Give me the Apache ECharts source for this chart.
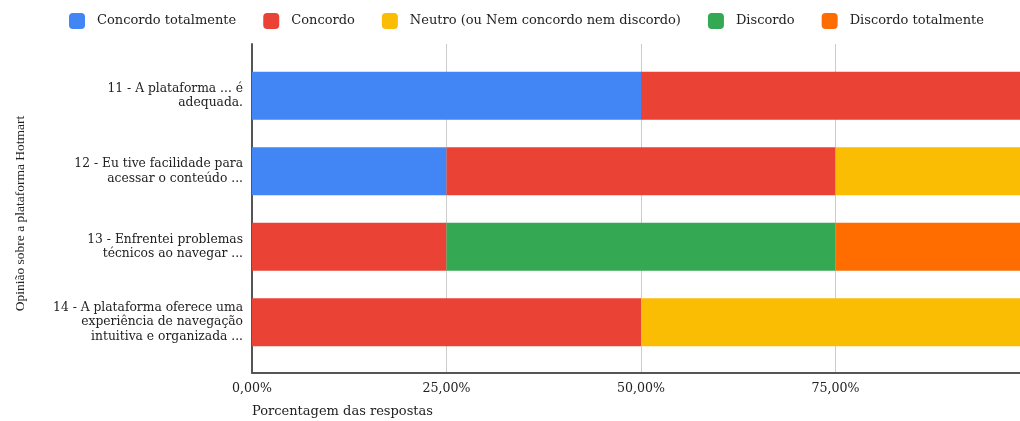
<!DOCTYPE html>
<html>
<head>
<meta charset="utf-8">
<script src="https://cdn.jsdelivr.net/npm/echarts@6/dist/echarts.min.js"></script>
<style>html,body{margin:0;padding:0;background:#fff;overflow:hidden;}#c{width:1030px;height:421px;}</style>
</head>
<body>
<div id="c"></div>
<script>
const categories = [
  "11 - A plataforma ... é\nadequada.",
  "12 - Eu tive facilidade para\nacessar o conteúdo ...",
  "13 - Enfrentei problemas\ntécnicos ao navegar ...",
  "14 - A plataforma oferece uma\nexperiência de navegação\nintuitiva e organizada ..."
];
const seriesNames = ["Concordo totalmente", "Concordo", "Neutro (ou Nem concordo nem discordo)", "Discordo", "Discordo totalmente"];
const concordoTotalmente = [50, 25, 0, 0];
const concordo = [50, 50, 25, 50];
const neutro = [0, 25, 0, 50];
const discordo = [0, 0, 50, 0];
const discordoTotalmente = [0, 0, 25, 0];
const xTicks = [0, 25, 50, 75, 100];
const colors = ["#4285F4", "#EA4335", "#FBBC04", "#34A853", "#FF6D01"];
const xTitle = "Porcentagem das respostas";
const yTitle = "Opinião sobre a plataforma Hotmart";

const values = [concordoTotalmente, concordo, neutro, discordo, discordoTotalmente];
const serif = "DejaVu Serif";

const chart = echarts.init(document.getElementById('c'), null, {renderer: 'canvas'});
chart.setOption({
  animation: false,
  color: colors,
  title: {
    text: xTitle, left: 252, top: 405, padding: 0,
    textStyle: {fontFamily: serif, fontSize: 13, fontWeight: 'normal', color: '#222'}
  },
  legend: {
    data: seriesNames, left: 69, top: 13, padding: 0, icon: 'roundRect',
    itemWidth: 16, itemHeight: 16, itemGap: 27,
    textStyle: {fontFamily: serif, fontSize: 13, color: '#222', padding: [0, 0, 0, 7]}
  },
  grid: [
    {left: 252, right: 0, top: 44, bottom: 48},
    {left: 252, right: 0, top: 58, bottom: 61}
  ],
  xAxis: [
    {
      gridIndex: 0, type: 'value', min: xTicks[0], max: xTicks[xTicks.length - 1], interval: 25,
      axisLine: {show: true, lineStyle: {color: '#555', width: 2}},
      axisTick: {show: false},
      splitLine: {show: true, lineStyle: {color: '#cccccc', width: 1}},
      axisLabel: {
        showMaxLabel: false, margin: 9, color: '#222', fontFamily: serif, fontSize: 12.6,
        formatter: v => v.toFixed(2).replace('.', ',') + '%'
      }
    },
    {
      gridIndex: 1, type: 'value', min: 0, max: 100, show: false
    }
  ],
  yAxis: [
    {
      gridIndex: 0, type: 'category', data: categories, inverse: true,
      axisLine: {show: true, lineStyle: {color: '#555', width: 2}},
      axisTick: {show: false}, axisLabel: {show: false}, splitLine: {show: false},
      name: yTitle, nameLocation: 'middle', nameGap: 225,
      nameTextStyle: {fontFamily: 'Liberation Serif', fontSize: 13.5, color: '#222', padding: [0, 0, 0, -10]}
    },
    {
      gridIndex: 1, type: 'category', data: categories, inverse: true,
      axisLine: {show: false}, axisTick: {show: false},
      axisLabel: {
        margin: 9, color: '#222', fontFamily: serif, fontSize: 12.3, lineHeight: 14.5, align: 'right'
      }
    }
  ],
  series: seriesNames.map((name, i) => ({
    name: name, type: 'bar', stack: 'total', xAxisIndex: 1, yAxisIndex: 1,
    barWidth: 48, data: values[i], itemStyle: {color: colors[i]}
  }))
});
</script>
</body>
</html>
